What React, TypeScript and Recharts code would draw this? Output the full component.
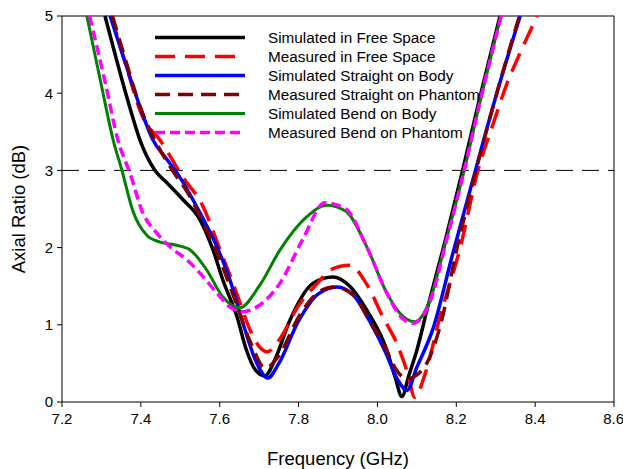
import { LineChart, Line, XAxis, YAxis, ReferenceLine, Legend } from 'recharts'

// axis ticks
const freqTicks = [7.2, 7.4, 7.6, 7.8, 8.0, 8.2, 8.4, 8.6]
const arTicks = [0, 1, 2, 3, 4, 5]

// Simulated in Free Space
const simFreeF = [7.309, 7.34, 7.37, 7.398, 7.436, 7.466, 7.507, 7.55, 7.583, 7.608, 7.644, 7.668, 7.69, 7.715, 7.74, 7.778, 7.837, 7.887, 7.93, 7.973, 8.024, 8.045, 8.062, 8.08, 8.10, 8.126, 8.17, 8.217, 8.26, 8.311]
const simFreeV = [5.0, 4.4, 3.85, 3.39, 3.0, 2.84, 2.62, 2.36, 1.97, 1.58, 1.10, 0.67, 0.42, 0.34, 0.55, 1.06, 1.54, 1.62, 1.50, 1.19, 0.67, 0.32, 0.07, 0.35, 0.67, 1.2, 2.05, 3.02, 3.95, 5.0]

// Measured in Free Space
const measFreeF = [7.325, 7.36, 7.405, 7.449, 7.507, 7.558, 7.601, 7.64, 7.68, 7.70, 7.72, 7.75, 7.80, 7.85, 7.88, 7.93, 7.97, 8.014, 8.05, 8.075, 8.095, 8.12, 8.159, 8.21, 8.255, 8.294, 8.329, 8.36, 8.405]
const measFreeV = [5.0, 4.4, 3.69, 3.39, 2.91, 2.53, 1.97, 1.45, 0.9, 0.72, 0.65, 0.8, 1.25, 1.55, 1.71, 1.77, 1.55, 1.10, 0.75, 0.4, 0.06, 0.35, 1.11, 2.0, 3.0, 3.61, 4.13, 4.5, 5.0]

// Simulated Straight on Body
const simStraightF = [7.322, 7.36, 7.398, 7.431, 7.465, 7.499, 7.55, 7.593, 7.626, 7.659, 7.69, 7.722, 7.75, 7.80, 7.85, 7.897, 7.94, 7.98, 8.02, 8.05, 8.075, 8.10, 8.141, 8.19, 8.248, 8.30, 8.362]
const simStraightV = [5.0, 4.4, 3.82, 3.39, 3.15, 2.91, 2.45, 2.01, 1.58, 1.02, 0.55, 0.31, 0.5, 1.05, 1.40, 1.49, 1.38, 1.05, 0.65, 0.3, 0.15, 0.45, 0.95, 1.9, 2.99, 3.95, 5.0]

// Measured Straight on Phantom
const measStraightF = [7.328, 7.36, 7.40, 7.44, 7.48, 7.52, 7.56, 7.60, 7.64, 7.68, 7.715, 7.75, 7.80, 7.85, 7.89, 7.94, 7.98, 8.02, 8.05, 8.075, 8.10, 8.13, 8.16, 8.20, 8.25, 8.30, 8.36]
const measStraightV = [5.0, 4.45, 3.8, 3.35, 3.0, 2.7, 2.3, 1.85, 1.3, 0.75, 0.44, 0.6, 1.1, 1.42, 1.49, 1.38, 1.05, 0.7, 0.4, 0.3, 0.35, 0.55, 1.0, 1.95, 3.0, 3.95, 5.0]

// Simulated Bend on Body
const simBendF = [7.263, 7.30, 7.33, 7.352, 7.38, 7.415, 7.449, 7.49, 7.525, 7.567, 7.608, 7.651, 7.70, 7.753, 7.821, 7.872, 7.92, 7.973, 8.024, 8.057, 8.095, 8.133, 8.172, 8.22, 8.263, 8.313]
const simBendV = [5.0, 4.1, 3.39, 3.0, 2.47, 2.16, 2.07, 2.03, 1.97, 1.71, 1.36, 1.22, 1.5, 1.97, 2.4, 2.55, 2.47, 2.01, 1.41, 1.15, 1.04, 1.32, 2.05, 3.0, 3.95, 5.0]

// Measured Bend on Phantom
const measBendF = [7.27, 7.31, 7.342, 7.372, 7.405, 7.44, 7.474, 7.517, 7.55, 7.593, 7.626, 7.659, 7.70, 7.753, 7.81, 7.867, 7.92, 7.973, 8.024, 8.06, 8.09, 8.135, 8.173, 8.22, 8.263, 8.314]
const measBendV = [5.0, 4.13, 3.39, 2.97, 2.45, 2.19, 2.01, 1.84, 1.67, 1.41, 1.23, 1.17, 1.25, 1.54, 2.1, 2.58, 2.5, 2.01, 1.41, 1.1, 1.02, 1.32, 2.05, 3.0, 3.95, 5.0]

const zip = (f: number[], v: number[]) => f.map((x, i) => ({ f: x, v: v[i] }))

const series = [
  { name: 'Simulated in Free Space', data: zip(simFreeF, simFreeV), color: '#000000', dash: undefined, width: 3.5 },
  { name: 'Measured in Free Space', data: zip(measFreeF, measFreeV), color: '#ff0000', dash: '20 10', width: 3.5 },
  { name: 'Simulated Straight on Body', data: zip(simStraightF, simStraightV), color: '#0000ff', dash: undefined, width: 3.5 },
  { name: 'Measured Straight on Phantom', data: zip(measStraightF, measStraightV), color: '#800000', dash: '15 8', width: 3.5 },
  { name: 'Simulated Bend on Body', data: zip(simBendF, simBendV), color: '#008000', dash: undefined, width: 3 },
  { name: 'Measured Bend on Phantom', data: zip(measBendF, measBendV), color: '#ff00ff', dash: '10 5', width: 3.5 },
]

const FONT = '"Liberation Sans", Arial, sans-serif'

function LegendBox() {
  return (
    <div style={{ fontFamily: FONT, fontSize: 15.3, color: '#000' }}>
      {series.map(s => (
        <div key={s.name} style={{ display: 'flex', alignItems: 'center', height: 19 }}>
          <svg width={95} height={19}>
            <line x1={5} x2={95} y1={9.5} y2={9.5} stroke={s.color} strokeWidth={s.width} strokeDasharray={s.dash} />
          </svg>
          <span style={{ marginLeft: 23, whiteSpace: 'nowrap' }}>{s.name}</span>
        </div>
      ))}
    </div>
  )
}

const tickStyle = { fontSize: 15, fill: '#000', fontFamily: FONT }
const labelStyle = { fontSize: 18.5, fill: '#000', fontFamily: FONT }

export default function App() {
  return (
    <div style={{ position: 'absolute', left: 0, top: 0, width: 623, height: 469, background: '#fff' }}>
      <LineChart width={623} height={469} margin={{ top: 16, right: 9, bottom: 7, left: 0 }}>
        <XAxis
          dataKey="f"
          type="number"
          domain={[7.2, 8.6]}
          ticks={freqTicks}
          tickFormatter={(v: number) => v.toFixed(1)}
          tick={tickStyle}
          tickSize={5}
          tickMargin={6}
          stroke="#000"
          height={60}
          allowDuplicatedCategory={false}
          label={{ value: 'Frequency (GHz)', position: 'insideBottom', offset: -3, style: labelStyle }}
        />
        <YAxis
          type="number"
          domain={[0, 5]}
          ticks={arTicks}
          tick={tickStyle}
          tickSize={5}
          tickMargin={4}
          stroke="#000"
          width={62}
          label={{ value: 'Axial Ratio (dB)', angle: -90, position: 'insideLeft', offset: 18, style: { ...labelStyle, textAnchor: 'middle' } }}
        />
        <ReferenceLine y={3} stroke="#000" strokeWidth={1} strokeDasharray="17 9" />
        <ReferenceLine y={5} stroke="#000" strokeWidth={1} />
        <ReferenceLine x={8.6} stroke="#000" strokeWidth={1} />
        {series.map(s => (
          <Line
            key={s.name}
            data={s.data}
            dataKey="v"
            name={s.name}
            type="monotone"
            stroke={s.color}
            strokeWidth={s.width}
            strokeDasharray={s.dash}
            dot={false}
            activeDot={false}
            isAnimationActive={false}
          />
        ))}
        <Legend
          layout="vertical"
          align="center"
          verticalAlign="middle"
          wrapperStyle={{ left: 150, top: 28, width: 'auto' }}
          content={() => <LegendBox />}
        />
      </LineChart>
    </div>
  )
}
